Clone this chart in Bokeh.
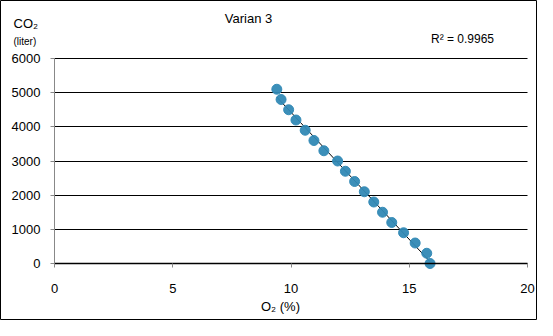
import numpy as np
from bokeh.plotting import figure
from bokeh.models import Label, FixedTicker, Range1d
from bokeh.embed import file_html
from bokeh.resources import INLINE

# Data
o2_percent = [9.40, 9.58, 9.90, 10.21, 10.60, 10.97, 11.39, 11.97, 12.30,
              12.69, 13.10, 13.50, 13.87, 14.26, 14.76, 15.25, 15.74, 15.88]
co2_liter = [5100, 4800, 4500, 4200, 3900, 3600, 3300, 3000, 2700,
             2400, 2100, 1800, 1500, 1200, 900, 600, 300, 0]
x_ticks = [0, 5, 10, 15, 20]
y_ticks = [0, 1000, 2000, 3000, 4000, 5000, 6000]
title_text = "Varian 3"
r2_text = "R\u00b2 = 0.9965"
y_label_1 = "CO\u2082"
y_label_2 = "(liter)"
x_label = "O\u2082 (%)"

FONT = "Liberation Sans"
W, H = 537, 320

# Plot area in canvas pixels: x 0..20 -> 54..527, y 6000..0 -> 58..263
PX_L, PX_R, PX_T, PX_B = 54, 527, 58, 263
XMIN, XMAX = x_ticks[0], x_ticks[-1]
YMIN, YMAX = y_ticks[0], y_ticks[-1]
sx = (PX_R - PX_L) / (XMAX - XMIN)
sy = (PX_B - PX_T) / (YMAX - YMIN)
x_range = Range1d(XMIN - PX_L / sx, XMAX + (W - PX_R) / sx)
y_range = Range1d(YMIN - (H - PX_B) / sy, YMAX + PX_T / sy)

p = figure(width=W, height=H, output_backend="svg", toolbar_location=None,
           x_range=x_range, y_range=y_range,
           min_border_left=0, min_border_right=0,
           min_border_top=0, min_border_bottom=0)
p.title.visible = False
p.outline_line_color = "black"
p.outline_line_width = 1
p.background_fill_color = "white"
p.border_fill_color = "white"

# Axes placed at the data origin
p.xaxis.fixed_location = 0
p.yaxis.fixed_location = 0
p.xaxis.bounds = (XMIN, XMAX)
p.yaxis.bounds = (YMIN, YMAX)
p.xaxis.ticker = FixedTicker(ticks=x_ticks)
p.yaxis.ticker = FixedTicker(ticks=y_ticks)
p.xaxis.axis_line_color = "black"
p.xaxis.axis_line_width = 1.5
p.xaxis.major_tick_line_color = "#888888"
p.xaxis.major_tick_in = 0
p.xaxis.major_tick_out = 4
p.xaxis.minor_tick_line_color = None
p.xaxis.major_label_standoff = 16
p.yaxis.axis_line_color = "#888888"
p.yaxis.major_tick_line_color = "#888888"
p.yaxis.major_tick_in = 0
p.yaxis.major_tick_out = 4
p.yaxis.minor_tick_line_color = None
p.yaxis.major_label_standoff = 10
for ax in (p.xaxis, p.yaxis):
    ax.major_label_text_font = FONT
    ax.major_label_text_font_size = "13px"
    ax.major_label_text_color = "black"

p.xgrid.grid_line_color = None
p.ygrid.grid_line_color = "black"
p.ygrid.grid_line_width = 1.2
p.ygrid.grid_line_alpha = 1.0
try:
    p.ygrid.cross_bounds = (XMIN, XMAX)
    p.ygrid.bounds = (YMIN, YMAX)
except Exception:
    pass

# Linear trend line
xs = np.array(o2_percent)
ys = np.array(co2_liter)
m, b = np.polyfit(xs, ys, 1)
tx = np.array([xs.min(), xs.max()])
p.line(tx, m * tx + b, line_color="black", line_width=1)

# Points
p.scatter(o2_percent, co2_liter, size=10, fill_color="#3189b5",
          line_color="#3189b5", alpha=0.95)

# Labels (frame == canvas, screen units from bottom-left)
def add_label(text, x, y_top, size="13px", align="left"):
    p.add_layout(Label(x=x, y=H - y_top,
                       x_units="screen", y_units="screen",
                       text=text, text_font=FONT, text_font_size=size,
                       text_align=align, text_baseline="top",
                       text_color="black"))

add_label(title_text, 248, 10, size="13px", align="center")
add_label(y_label_1, 13, 15, size="13px")
add_label(y_label_2, 13, 35, size="10px")
add_label(r2_text, 462, 31, size="12px", align="center")
add_label(x_label, 280, 298, size="13px", align="center")

open("out.html", "w").write(file_html(p, INLINE))
